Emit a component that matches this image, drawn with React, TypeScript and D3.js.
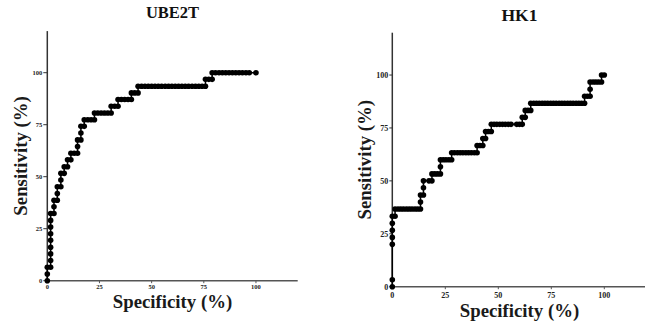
import { useEffect, useRef } from 'react'
import * as d3 from 'd3'

type Pt = [number, number] // [specificity %, sensitivity %]

const TICKS = [0, 25, 50, 75, 100]

const UBE2T_POINTS: Pt[] = [
  [0, 0], [0, 3.2], [0, 6.5], [1.6, 6.5], [1.6, 9.7], [1.6, 12.9], [1.6, 16.1], [1.6, 19.4], [1.6, 22.6],
  [1.6, 25.8], [1.6, 29.0], [1.6, 32.3], [3.2, 32.3], [3.2, 35.5], [3.2, 38.7], [4.8, 38.7], [4.8, 41.9],
  [4.8, 45.2], [6.5, 45.2], [6.5, 48.4], [6.5, 51.6], [8.1, 51.6], [8.1, 54.8], [9.7, 54.8], [9.7, 58.1],
  [11.3, 58.1], [11.3, 61.3], [12.9, 61.3], [14.5, 61.3], [14.5, 64.5], [14.5, 67.7], [16.1, 67.7],
  [16.1, 71.0], [16.1, 74.2], [17.7, 74.2], [17.7, 77.4], [19.4, 77.4], [21.0, 77.4], [22.6, 77.4],
  [22.6, 80.6], [24.2, 80.6], [25.8, 80.6], [27.4, 80.6], [29.0, 80.6], [30.6, 80.6], [30.6, 83.9],
  [32.3, 83.9], [33.9, 83.9], [33.9, 87.1], [35.5, 87.1], [37.1, 87.1], [38.7, 87.1], [40.3, 87.1],
  [40.3, 90.3], [41.9, 90.3], [43.5, 90.3], [43.5, 93.5], [45.2, 93.5], [46.8, 93.5], [48.4, 93.5],
  [50.0, 93.5], [51.6, 93.5], [53.2, 93.5], [54.8, 93.5], [56.5, 93.5], [58.1, 93.5], [59.7, 93.5],
  [61.3, 93.5], [62.9, 93.5], [64.5, 93.5], [66.1, 93.5], [67.7, 93.5], [69.4, 93.5], [71.0, 93.5],
  [72.6, 93.5], [74.2, 93.5], [75.8, 93.5], [75.8, 96.8], [77.4, 96.8], [79.0, 96.8], [79.0, 100],
  [80.6, 100], [82.3, 100], [83.9, 100], [85.5, 100], [87.1, 100], [88.7, 100], [90.3, 100], [91.9, 100],
  [93.5, 100], [95.2, 100], [96.8, 100], [100, 100],
]

const HK1_POINTS: Pt[] = [
  [0, 0], [0, 3.3], [0, 20.0], [0, 23.3], [0, 26.7], [0, 30.0], [0, 33.3], [1.3, 33.3], [1.3, 36.7],
  [2.7, 36.7], [4.0, 36.7], [5.3, 36.7], [6.7, 36.7], [8.0, 36.7], [9.3, 36.7], [10.7, 36.7], [12.0, 36.7],
  [13.3, 36.7], [13.3, 40.0], [13.3, 43.3], [14.7, 43.3], [14.7, 46.7], [14.7, 50.0], [17.3, 50.0],
  [18.7, 50.0], [18.7, 53.3], [20.0, 53.3], [21.3, 53.3], [22.7, 53.3], [22.7, 56.7], [22.7, 60.0],
  [24.0, 60.0], [25.3, 60.0], [26.7, 60.0], [28.0, 60.0], [28.0, 63.3], [29.3, 63.3], [30.7, 63.3],
  [32.0, 63.3], [33.3, 63.3], [34.7, 63.3], [36.0, 63.3], [37.3, 63.3], [38.7, 63.3], [40.0, 63.3],
  [40.0, 66.7], [41.3, 66.7], [42.7, 66.7], [42.7, 70.0], [44.0, 70.0], [44.0, 73.3], [45.3, 73.3],
  [46.7, 73.3], [46.7, 76.7], [48.0, 76.7], [49.3, 76.7], [50.7, 76.7], [52.0, 76.7], [53.3, 76.7],
  [54.7, 76.7], [56.0, 76.7], [58.7, 76.7], [60.0, 76.7], [61.3, 76.7], [61.3, 80.0], [62.7, 80.0],
  [62.7, 83.3], [64.0, 83.3], [65.3, 83.3], [65.3, 86.7], [66.7, 86.7], [68.0, 86.7], [69.3, 86.7],
  [70.7, 86.7], [72.0, 86.7], [73.3, 86.7], [74.7, 86.7], [76.0, 86.7], [77.3, 86.7], [78.7, 86.7],
  [80.0, 86.7], [81.3, 86.7], [82.7, 86.7], [84.0, 86.7], [85.3, 86.7], [86.7, 86.7], [88.0, 86.7],
  [89.3, 86.7], [90.7, 86.7], [90.7, 90.0], [92.0, 90.0], [93.3, 90.0], [93.3, 93.3], [93.3, 96.7],
  [94.7, 96.7], [96.0, 96.7], [97.3, 96.7], [98.7, 96.7], [98.7, 100], [100, 100],
]

interface Panel {
  title: string
  points: Pt[]
  x0: number; x1: number // pixel range for 0..120
  y0: number; y1: number
  titleY: number; titleSize: number
  xLabelY: number; yLabelX: number; labelSize: number
  tickSize: number; tickLabelY: number; tickLen: number
}

const PANELS: Panel[] = [
  { title: 'UBE2T', points: UBE2T_POINTS, x0: 47.3, x1: 297.7, y0: 280.7, y1: 31.1, titleY: 18, titleSize: 16.5,
    xLabelY: 308, yLabelX: 26.5, labelSize: 18.8, tickSize: 6.5, tickLabelY: 289, tickLen: 4 },
  { title: 'HK1', points: HK1_POINTS, x0: 392.3, x1: 646.7, y0: 286.7, y1: 32.7, titleY: 20.5, titleSize: 17.5,
    xLabelY: 317, yLabelX: 371, labelSize: 18.8, tickSize: 8, tickLabelY: 297.5, tickLen: 3 },
]

const FONT = '"Liberation Serif", "Times New Roman", serif'

export default function App() {
  const svgRef = useRef<SVGSVGElement>(null)

  useEffect(() => {
    const svg = d3.select(svgRef.current)
    svg.selectAll('*').remove()

    PANELS.forEach((p) => {
      const xSc = d3.scaleLinear().domain([0, 120]).range([p.x0, p.x1])
      const ySc = d3.scaleLinear().domain([0, 120]).range([p.y0, p.y1])
      const g = svg.append('g').attr('font-family', FONT).attr('font-weight', 'bold')

      // axes
      g.append('line').attr('x1', xSc(0)).attr('x2', xSc(120)).attr('y1', ySc(0)).attr('y2', ySc(0))
        .attr('stroke', '#555').attr('stroke-width', 1.5)
      g.append('line').attr('x1', xSc(0)).attr('x2', xSc(0)).attr('y1', ySc(0)).attr('y2', ySc(120))
        .attr('stroke', '#333').attr('stroke-width', 1.5)

      TICKS.forEach((t) => {
        g.append('line').attr('x1', xSc(t)).attr('x2', xSc(t)).attr('y1', ySc(0)).attr('y2', ySc(0) + 2.5)
          .attr('stroke', '#555').attr('stroke-width', 1)
        g.append('text').attr('x', xSc(t)).attr('y', p.tickLabelY).attr('text-anchor', 'middle')
          .attr('font-size', p.tickSize).attr('fill', '#222').text(t)
        g.append('line').attr('x1', xSc(0) - p.tickLen).attr('x2', xSc(0)).attr('y1', ySc(t)).attr('y2', ySc(t))
          .attr('stroke', '#333').attr('stroke-width', 1)
        g.append('text').attr('x', xSc(0) - p.tickLen - 1).attr('y', ySc(t)).attr('dy', '0.35em')
          .attr('text-anchor', 'end').attr('font-size', p.tickSize).attr('fill', '#222').text(t)
      })

      // titles
      const cx = (xSc(0) + xSc(120)) / 2
      g.append('text').attr('x', cx).attr('y', p.titleY).attr('text-anchor', 'middle')
        .attr('font-size', p.titleSize).attr('fill', '#111').text(p.title)
      g.append('text').attr('x', cx).attr('y', p.xLabelY).attr('text-anchor', 'middle')
        .attr('font-size', p.labelSize).attr('fill', '#1a1a1a').text('Specificity (%)')
      g.append('text').attr('transform', `translate(${p.yLabelX},${(ySc(0) + ySc(120)) / 2}) rotate(-90)`)
        .attr('text-anchor', 'middle').attr('font-size', p.labelSize).attr('fill', '#1a1a1a').text('Sensitivity (%)')

      // ROC curve
      const line = d3.line<Pt>().x((d) => xSc(d[0])).y((d) => ySc(d[1]))
      g.append('path').datum(p.points).attr('d', line).attr('fill', 'none').attr('stroke', '#000').attr('stroke-width', 1.5)
      g.selectAll('circle.pt').data(p.points).enter().append('circle')
        .attr('cx', (d) => xSc(d[0])).attr('cy', (d) => ySc(d[1])).attr('r', 2.8).attr('fill', '#000')
    })
  }, [])

  return (
    <svg ref={svgRef} width={645} height={323} style={{ position: 'absolute', left: 0, top: 0, background: '#fff' }} />
  )
}
